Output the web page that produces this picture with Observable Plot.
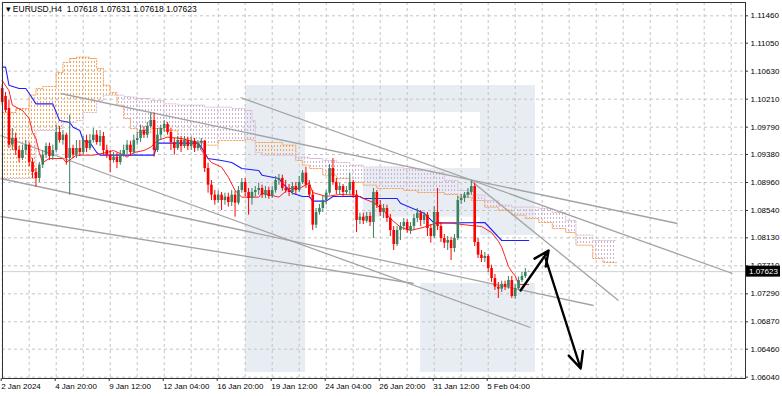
<!DOCTYPE html>
<html><head><meta charset="utf-8">
<script src="https://cdn.jsdelivr.net/npm/d3@7"></script>
<script src="https://cdn.jsdelivr.net/npm/@observablehq/plot@0.6"></script>
<style>
html,body{margin:0;padding:0;background:#fff;}
#chart{width:782px;height:396px;overflow:hidden;position:relative}
</style></head><body><div id="chart"></div>
<script>
// ---- Candles (H4 bars, index 0 = 2 Jan 04:00) ----
const openP = [1.1037,1.1025,1.1007,1.0952,1.0962,1.0944,1.0932,1.0944,1.0952,1.0926,
1.0911,1.0902,1.0922,1.0937,1.0950,1.0935,1.0944,1.0971,1.0959,1.0967,
1.0932,1.0947,1.0937,1.0947,1.0941,1.0959,1.0947,1.0959,1.0967,1.0956,
1.0965,1.0944,1.0937,1.0929,1.0934,1.0926,1.0937,1.0944,1.0952,1.0941,
1.0959,1.0962,1.0974,1.0967,1.0980,1.0989,1.0944,1.0967,1.0977,1.0983,
1.0971,1.0956,1.0947,1.0959,1.0950,1.0959,1.0950,1.0958,1.0947,1.0955,
1.0958,1.0917,1.0892,1.0877,1.0869,1.0877,1.0869,1.0874,1.0866,1.0877,
1.0865,1.0884,1.0896,1.0881,1.0872,1.0881,1.0884,1.0887,1.0877,1.0884,
1.0875,1.0884,1.0899,1.0902,1.0887,1.0884,1.0881,1.0890,1.0884,1.0896,
1.0910,1.0892,1.0877,1.0832,1.0851,1.0857,1.0869,1.0880,1.0917,1.0896,
1.0884,1.0890,1.0881,1.0884,1.0896,1.0877,1.0839,1.0844,1.0838,1.0845,
1.0836,1.0881,1.0862,1.0851,1.0857,1.0842,1.0824,1.0803,1.0824,1.0830,
1.0836,1.0824,1.0830,1.0842,1.0850,1.0839,1.0847,1.0827,1.0815,1.0851,
1.0830,1.0812,1.0805,1.0809,1.0797,1.0812,1.0869,1.0872,1.0877,1.0881,
1.0890,1.0806,1.0787,1.0782,1.0785,1.0767,1.0752,1.0739,1.0736,1.0743,
1.0739,1.0749,1.0725,1.0737,1.0749,1.0755,1.07618];
const highP = [1.1043,1.1031,1.1019,1.0977,1.0970,1.0950,1.0952,1.0959,1.0955,1.0932,
1.0917,1.0926,1.0944,1.0955,1.0955,1.0952,1.0982,1.0980,1.0974,1.0970,
1.0997,1.0952,1.0959,1.0959,1.0965,1.0967,1.0968,1.0977,1.0974,1.0974,
1.0971,1.0952,1.0944,1.0941,1.0940,1.0944,1.0952,1.0959,1.0958,1.0967,
1.0971,1.0982,1.0980,1.0986,1.1000,1.1000,1.0977,1.0982,1.0989,1.0986,
1.0977,1.0962,1.0965,1.0965,1.0965,1.0964,1.0964,1.0962,1.0959,1.0962,
1.0959,1.0925,1.0899,1.0884,1.0883,1.0881,1.0880,1.0880,1.0884,1.0883,
1.0890,1.0902,1.0902,1.0887,1.0887,1.0890,1.0895,1.0892,1.0890,1.0889,
1.0890,1.0905,1.0908,1.0907,1.0899,1.0893,1.0896,1.0896,1.0905,1.0914,
1.0919,1.0899,1.0884,1.0857,1.0863,1.0875,1.0884,1.0923,1.0932,1.0902,
1.0895,1.0893,1.0890,1.0910,1.0899,1.0884,1.0850,1.0850,1.0851,1.0851,
1.0887,1.0884,1.0869,1.0863,1.0862,1.0848,1.0830,1.0830,1.0836,1.0842,
1.0840,1.0836,1.0848,1.0857,1.0854,1.0851,1.0851,1.0833,1.0860,1.0887,
1.0836,1.0818,1.0815,1.0814,1.0818,1.0875,1.0878,1.0881,1.0887,1.0898,
1.0895,1.0812,1.0794,1.0791,1.0788,1.0772,1.0758,1.0746,1.0748,1.0748,
1.0755,1.0755,1.0743,1.0754,1.0761,1.0767,1.07631];
const lowP = [1.1012,1.1001,1.0947,1.0944,1.0937,1.0926,1.0929,1.0937,1.0920,1.0902,
1.0889,1.0896,1.0917,1.0932,1.0929,1.0929,1.0941,1.0955,1.0952,1.0922,
1.0877,1.0932,1.0932,1.0935,1.0937,1.0941,1.0944,1.0955,1.0952,1.0950,
1.0937,1.0932,1.0911,1.0925,1.0917,1.0922,1.0934,1.0937,1.0935,1.0937,
1.0952,1.0956,1.0962,1.0962,1.0977,1.0934,1.0941,1.0959,1.0971,1.0967,
1.0944,1.0937,1.0944,1.0941,1.0947,1.0944,1.0944,1.0941,1.0943,1.0949,
1.0911,1.0880,1.0869,1.0862,1.0865,1.0854,1.0862,1.0859,1.0860,1.0844,
1.0862,1.0880,1.0875,1.0847,1.0862,1.0874,1.0877,1.0872,1.0872,1.0871,
1.0872,1.0880,1.0892,1.0883,1.0880,1.0875,1.0877,1.0878,1.0881,1.0893,
1.0887,1.0872,1.0824,1.0827,1.0847,1.0851,1.0862,1.0877,1.0892,1.0878,
1.0877,1.0875,1.0877,1.0877,1.0872,1.0821,1.0833,1.0833,1.0835,1.0830,
1.0812,1.0857,1.0845,1.0842,1.0836,1.0815,1.0794,1.0800,1.0809,1.0824,
1.0820,1.0818,1.0824,1.0836,1.0830,1.0833,1.0815,1.0805,1.0812,1.0824,
1.0806,1.0797,1.0794,1.0779,1.0791,1.0809,1.0863,1.0866,1.0872,1.0877,
1.0800,1.0782,1.0776,1.0776,1.0761,1.0746,1.0734,1.0722,1.0731,1.0734,
1.0736,1.0722,1.0721,1.0734,1.0746,1.0752,1.07618];
const closeP = [1.1016,1.1004,1.0952,1.0962,1.0944,1.0932,1.0944,1.0952,1.0926,1.0911,
1.0902,1.0922,1.0937,1.0950,1.0935,1.0944,1.0971,1.0959,1.0967,1.0932,
1.0947,1.0937,1.0947,1.0941,1.0959,1.0947,1.0959,1.0967,1.0956,1.0965,
1.0944,1.0937,1.0929,1.0934,1.0926,1.0937,1.0944,1.0952,1.0941,1.0959,
1.0962,1.0974,1.0967,1.0980,1.0989,1.0944,1.0967,1.0977,1.0983,1.0971,
1.0956,1.0947,1.0959,1.0950,1.0959,1.0950,1.0958,1.0947,1.0955,1.0958,
1.0917,1.0892,1.0877,1.0869,1.0877,1.0869,1.0874,1.0866,1.0877,1.0865,
1.0884,1.0896,1.0881,1.0872,1.0881,1.0884,1.0887,1.0877,1.0884,1.0875,
1.0884,1.0899,1.0902,1.0887,1.0884,1.0881,1.0890,1.0884,1.0896,1.0910,
1.0892,1.0877,1.0832,1.0851,1.0857,1.0869,1.0880,1.0917,1.0896,1.0884,
1.0890,1.0881,1.0884,1.0896,1.0877,1.0839,1.0844,1.0838,1.0845,1.0836,
1.0881,1.0862,1.0851,1.0857,1.0842,1.0824,1.0803,1.0824,1.0830,1.0836,
1.0824,1.0830,1.0842,1.0850,1.0839,1.0847,1.0827,1.0815,1.0851,1.0830,
1.0812,1.0805,1.0809,1.0797,1.0812,1.0869,1.0872,1.0877,1.0881,1.0890,
1.0806,1.0787,1.0782,1.0785,1.0767,1.0752,1.0739,1.0736,1.0743,1.0739,
1.0749,1.0725,1.0737,1.0749,1.0755,1.0761,1.07623];

// ---- Ichimoku: Tenkan-sen (red) ----
const tenkanIdx = [0,2,3,6,8,9,10,11,12,14,18,19,22,27,31,33,36,37,39,42,44,46,49,53,58,59,62,65,67,69,71,76,77,82,85,88,91,92,96,100,105,107,110,113,115,118,121,125,129,133,138,142,145,147,148,149,150,151,152,153,156];
const tenkanVal = [1.1049,1.1034,1.1012,1.1004,1.0992,1.0971,1.0962,1.0941,1.0926,1.0932,1.0932,1.0926,1.0937,1.0937,1.0941,1.0944,1.0937,1.0934,1.0941,1.0944,1.0949,1.0959,1.0964,1.0962,1.0956,1.0944,1.0926,1.0919,1.0904,1.0884,1.0874,1.0874,1.0880,1.0874,1.0887,1.0887,1.0895,1.0881,1.0875,1.0878,1.0877,1.0872,1.0866,1.0854,1.0842,1.0829,1.0824,1.0829,1.0836,1.0835,1.0832,1.0830,1.0821,1.0808,1.0799,1.0785,1.0770,1.0762,1.0756,1.0743,1.0743];
// ---- Kijun-sen (blue) ----
const kijunIdx = [0,1,2,5,7,9,10,15,17,20,21,23,24,26,28,29,45,46,58,59,61,65,68,71,76,77,82,83,86,89,91,92,96,98,106,107,117,118,125,128,143,148,156];
const kijunVal = [1.1069,1.1069,1.1042,1.1037,1.1037,1.1022,1.1014,1.1014,1.0989,1.0986,1.0979,1.0974,1.0959,1.0956,1.0941,1.0937,1.0937,1.0955,1.0955,1.0949,1.0932,1.0929,1.0926,1.0917,1.0914,1.0907,1.0902,1.0895,1.0880,1.0875,1.0875,1.0868,1.0868,1.0875,1.0875,1.0872,1.0872,1.0865,1.0850,1.0835,1.0836,1.0809,1.0809];
// ---- Senkou spans (cloud, shifted 26 bars ahead) ----
const cloudIdx = [0,4,8,10,12,16,18,20,22,24,26,28,30,32,34,36,38,40,44,48,52,56,60,64,68,72,74,75,77,80,83,87,89,91,95,99,103,107,111,115,119,123,127,131,135,139,143,147,151,155,159,163,167,170,175,178,182];
const spanA = [1.1001,1.1007,1.1027,1.1037,1.1040,1.1061,1.1076,1.1082,1.1084,1.1084,1.1082,1.1067,1.1042,1.1031,1.1012,1.0992,1.0977,1.0971,1.0977,1.0974,1.0962,1.0955,1.0952,1.0959,1.0959,1.0961,1.0959,1.0956,1.0956,1.0956,1.0952,1.0929,1.0922,1.0917,1.0907,1.0902,1.0896,1.0892,1.0887,1.0887,1.0884,1.0881,1.0881,1.0878,1.0874,1.0869,1.0859,1.0854,1.0847,1.0842,1.0836,1.0827,1.0821,1.0802,1.0782,1.0776,1.0776];
const spanB = [1.0902,1.0902,1.0902,1.0974,1.0974,1.0977,1.0986,1.0986,1.0989,1.1001,1.1001,1.1019,1.1027,1.1027,1.1027,1.1025,1.1024,1.1022,1.1019,1.1014,1.1012,1.1012,1.1009,1.1009,1.1007,1.1004,1.0989,1.0941,1.0937,1.0937,1.0937,1.0934,1.0934,1.0932,1.0929,1.0926,1.0922,1.0919,1.0919,1.0919,1.0917,1.0914,1.0911,1.0899,1.0884,1.0877,1.0869,1.0862,1.0859,1.0859,1.0857,1.0851,1.0839,1.0817,1.0809,1.0809,1.0809];

// ---- Drawn trend lines and arrows (bar index, price) ----
const trendX1 = [17.3, 70.6, 138.8, -0.5, -0.5, -0.5];
const trendY1 = [1.10295, 1.10235, 1.0899, 1.09665, 1.0902, 1.0845];
const trendX2 = [200.1, 216.4, 182.6, 156.5, 175.2, 121.9];
const trendY2 = [1.08345, 1.07595, 1.0719, 1.06785, 1.07115, 1.07445];
const arrowX1 = [153.6, 161.0];
const arrowY1 = [1.0734, 1.0782];
const arrowX2 = [161.9, 171.4];
const arrowY2 = [1.0794, 1.0617];

// ---- Watermark blocks (bar index, price) ----
const wmX1 = [72.1, 72.1, 141.7, 107, 124];
const wmX2 = [89.9, 158, 158, 158, 158];
const wmY1 = [1.0611, 1.1001, 1.08165, 1.0844, 1.0611];
const wmY2 = [1.10415, 1.10415, 1.10415, 1.0917, 1.07445];

// ---- Axes ----
const dateTickIdx = [0,16,32,48,64,80,96,112,128,144];
const dateTickLabels = ["2 Jan 2024","4 Jan 20:00","9 Jan 12:00","12 Jan 04:00","16 Jan 20:00","19 Jan 12:00","24 Jan 04:00","26 Jan 20:00","31 Jan 12:00","5 Feb 04:00"];
const gridIdx = d3.range(0, 217, 8);
const priceTicks = [1.06040,1.06460,1.06870,1.07290,1.07710,1.08130,1.08540,1.08960,1.09380,1.09790,1.10210,1.10630,1.11050,1.11460];
const lastPrice = 1.07623;
const header = "\u25BE EURUSD,H4  1.07618 1.07631 1.07618 1.07623";

const candles = openP.map((o,i)=>({i, open:o, high:highP[i], low:lowP[i], close:closeP[i]}));
const tenkan = tenkanIdx.map((i,k)=>({i, v:tenkanVal[k]}));
const kijun = kijunIdx.map((i,k)=>({i, v:kijunVal[k]}));
const cloud = cloudIdx.map((i,k)=>({i, a:spanA[k], b:spanB[k], top:Math.max(spanA[k],spanB[k])}));
const trends = trendX1.map((x,k)=>({x1:x, y1:trendY1[k], x2:trendX2[k], y2:trendY2[k]}));
const arrows = arrowX1.map((x,k)=>({x1:x, y1:arrowY1[k], x2:arrowX2[k], y2:arrowY2[k]}));
const wm = wmX1.map((x,k)=>({x1:x, x2:wmX2[k], y1:wmY1[k], y2:wmY2[k]}));

const UP = "#3b7f60", DN = "#ff0000";
const col = d => d.close >= d.open ? UP : DN;

const chart = Plot.plot({
  width: 782, height: 396,
  marginTop: 2, marginBottom: 18, marginLeft: 2, marginRight: 37,
  x: {type:"linear", domain:[0.09, 220.24], axis:null},
  y: {type:"linear", domain:[1.0602, 1.1166], axis:null},
  style: {fontFamily:"'Liberation Sans', Arial, sans-serif", fontSize:"8px", color:"#000", background:"#fff"},
  marks: [
    Plot.rect(wm, {x1:"x1", x2:"x2", y1:"y1", y2:"y2", fill:"#e8ecf3"}),
    Plot.gridX(gridIdx, {stroke:"#c4c4c4", strokeOpacity:1, strokeDasharray:"3,3"}),
    Plot.gridY(priceTicks, {stroke:"#c4c4c4", strokeOpacity:1, strokeDasharray:"3,3"}),
    Plot.areaY(cloud, {x:"i", y1:"b", y2:"top", curve:"step-after", fill:"url(#dotA)"}),
    Plot.areaY(cloud, {x:"i", y1:"a", y2:"top", curve:"step-after", fill:"url(#dotB)"}),
    Plot.line(cloud, {x:"i", y:"a", curve:"step-after", stroke:"#f4a460", strokeWidth:1, strokeDasharray:"1.5,1.5"}),
    Plot.line(cloud, {x:"i", y:"b", curve:"step-after", stroke:"#d8bfd8", strokeWidth:1, strokeDasharray:"1.5,1.5"}),
    Plot.ruleY([lastPrice], {stroke:"#d0d0d0", strokeWidth:1}),
    Plot.link(trends, {x1:"x1", y1:"y1", x2:"x2", y2:"y2", stroke:"#a3a3a3", strokeWidth:1.3}),
    Plot.line(kijun, {x:"i", y:"v", stroke:"#1f1fff", strokeWidth:1.1}),
    Plot.line(tenkan, {x:"i", y:"v", stroke:"#ff2020", strokeWidth:1}),
    Plot.ruleX(candles, {x:"i", y1:"low", y2:"high", stroke:col, strokeWidth:1}),
    Plot.ruleX(candles, {x:"i", y1:"open", y2:"close", stroke:col, strokeWidth:2.6}),
    Plot.arrow(arrows, {x1:"x1", y1:"y1", x2:"x2", y2:"y2", stroke:"#000", strokeWidth:2.4, headLength:11, headAngle:50}),
    Plot.frame({stroke:"#333"}),
    Plot.axisX(dateTickIdx, {tickSize:3, tickPadding:2, textAnchor:"start", dx:-1, tickFormat:d=>dateTickLabels[dateTickIdx.indexOf(d)], fontSize:8, stroke:"#333"}),
    Plot.axisY(priceTicks, {anchor:"right", tickSize:2, tickPadding:3, tickFormat:d3.format(".5f"), fontSize:8, stroke:"#333"}),
    Plot.text([header], {frameAnchor:"top-left", dx:3, dy:3, text:d=>d, textAnchor:"start", lineAnchor:"top", fontSize:8.5, fill:"#000"})
  ]
});

const NS = "http://www.w3.org/2000/svg";
const defs = document.createElementNS(NS, "defs");
defs.innerHTML = '<pattern id="dotA" width="3" height="4" patternUnits="userSpaceOnUse"><rect x="1" y="1" width="1" height="2" fill="#f4a460"/></pattern>' +
  '<pattern id="dotB" width="3" height="4" patternUnits="userSpaceOnUse"><rect x="1" y="1" width="1" height="2" fill="#cfb2cf"/></pattern>';
chart.prepend(defs);

// current price label on the price axis
const yPix = chart.scale("y").apply(lastPrice);
const g = document.createElementNS(NS, "g");
const r = document.createElementNS(NS, "rect");
r.setAttribute("x", 746); r.setAttribute("y", yPix - 5.5); r.setAttribute("width", 34); r.setAttribute("height", 11); r.setAttribute("fill", "#000");
const t = document.createElementNS(NS, "text");
t.setAttribute("x", 749); t.setAttribute("y", yPix + 3); t.setAttribute("fill", "#fff"); t.setAttribute("font-size", "8");
t.setAttribute("text-anchor", "start");
t.textContent = d3.format(".5f")(lastPrice);
g.append(r, t); chart.append(g);

document.getElementById("chart").append(chart);
</script></body></html>
